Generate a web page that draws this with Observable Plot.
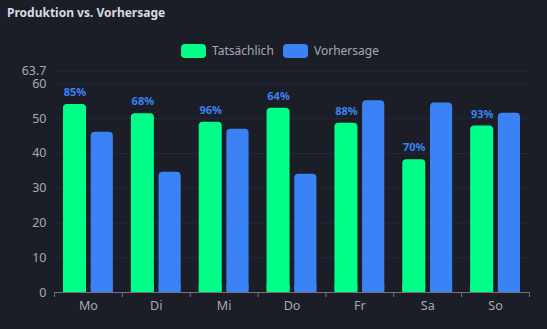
<!DOCTYPE html>
<html>
<head>
<meta charset="utf-8">
<script src="https://cdn.jsdelivr.net/npm/d3@7"></script>
<script src="https://cdn.jsdelivr.net/npm/@observablehq/plot@0.6"></script>
<style>
  html, body { margin: 0; padding: 0; background: #1b1e26; }
  body { width: 547px; height: 329px; overflow: hidden; font-family: "Noto Sans", "Open Sans", sans-serif; }
  #title { height: 30px; padding-left: 7px; font-size: 12px; font-weight: 700; color: #d6dbe4; line-height: 25px; }
  #legend { height: 30px; position: relative; font-size: 12px; color: #a3aab8; }
  .item { position: absolute; top: 12px; display: flex; align-items: center; }
  .sw { width: 25px; height: 14px; border-radius: 4px; margin-right: 6px; }
  #chart svg { display: block; }
</style>
</head>
<body>
<div id="title">Produktion vs. Vorhersage</div>
<div id="legend"></div>
<div id="chart"></div>
<script>
const days = ["Mo", "Di", "Mi", "Do", "Fr", "Sa", "So"];
const actual = [54.1, 51.4, 49.0, 53.0, 48.7, 38.2, 47.9];
const forecast = [46.1, 34.6, 47.0, 34.0, 55.2, 54.5, 51.6];
const pctLabels = ["85%", "68%", "96%", "64%", "88%", "70%", "93%"];
const seriesNames = ["Tatsächlich", "Vorhersage"];
const seriesColors = ["#00ff88", "#3b82f6"];
const yTicks = [0, 10, 20, 30, 40, 50, 60, 63.7];

const legend = document.getElementById("legend");
const legendX = [181, 283];
seriesNames.forEach((n, i) => {
  const d = document.createElement("div");
  d.className = "item";
  d.style.left = legendX[i] + "px";
  d.innerHTML = `<div class="sw" style="background:${seriesColors[i]}"></div><span>${n}</span>`;
  legend.appendChild(d);
});

const W = 547, H = 269;
const mL = 54, mR = 18, mT = 10.6, mB = 37;
const step = (W - mL - mR) / days.length;
const padO = 9, barW = 23, gap = 4.7;

const rowsA = days.map((d, i) => ({day: d, value: actual[i], label: pctLabels[i]}));
const rowsF = days.map((d, i) => ({day: d, value: forecast[i]}));

const chart = Plot.plot({
  width: W, height: H,
  marginLeft: mL, marginRight: mR, marginTop: mT, marginBottom: mB,
  style: {background: "transparent", fontFamily: "'Noto Sans', sans-serif"},
  x: {domain: days, padding: 0, round: false, label: null},
  y: {domain: [0, 63.7], label: null},
  marks: [
    Plot.ruleY(yTicks.filter(t => t > 0), {stroke: "#222845", strokeWidth: 1}),
    Plot.axisY({ticks: yTicks, tickSize: 0, tickPadding: 8, fontSize: 12.5, fill: "#a3aab8", label: null, tickFormat: d => String(d)}),
    Plot.barY(rowsA, {x: "day", y: "value", fill: seriesColors[0], insetLeft: padO, insetRight: step - padO - barW, rx: 4, ry: 4}),
    Plot.barY(rowsF, {x: "day", y: "value", fill: seriesColors[1], insetLeft: padO + barW + gap, insetRight: padO, rx: 4, ry: 4}),
    Plot.barY(rowsA, {x: "day", y1: 0, y2: d => Math.min(2, d.value), fill: seriesColors[0], insetLeft: padO, insetRight: step - padO - barW}),
    Plot.barY(rowsF, {x: "day", y1: 0, y2: d => Math.min(2, d.value), fill: seriesColors[1], insetLeft: padO + barW + gap, insetRight: padO}),
    Plot.text(rowsA, {x: "day", y: "value", text: "label", dx: -step / 2 + padO + barW / 2, dy: -12, fill: "#3b82f6", fontWeight: 700, fontSize: 11}),
    Plot.ruleY([0], {stroke: "#6e7480", strokeWidth: 1}),
    Plot.ruleX(days, {x: d => d, y1: 0, y2: 0, insetBottom: -5, dx: -step / 2, stroke: "#6e7480"}),
    Plot.ruleX([days[days.length - 1]], {x: d => d, y1: 0, y2: 0, insetBottom: -5, dx: step / 2, stroke: "#6e7480"}),
    Plot.axisX({tickSize: 0, tickPadding: 9, fontSize: 12.5, fill: "#a3aab8", label: null})
  ]
});
document.getElementById("chart").appendChild(chart);
</script>
</body>
</html>
